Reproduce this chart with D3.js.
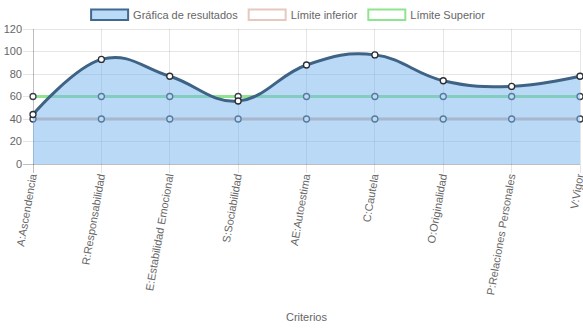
<!DOCTYPE html>
<html>
<head>
<meta charset="utf-8">
<script src="https://cdn.jsdelivr.net/npm/d3@7"></script>
<style>
  html, body { margin: 0; padding: 0; background: #fff; }
  svg { display: block; }
  text { font-family: "Liberation Sans", Arial, Helvetica, sans-serif; fill: #666; }
</style>
</head>
<body>
<svg id="chart" width="583" height="328"></svg>
<script>
const categories = ["A:Ascendencia", "R:Responsabilidad", "E:Estabilidad Emocional", "S:Sociabilidad",
  "AE:Autoestima", "C:Cautela", "O:Originalidad", "P:Relaciones Personales", "V:Vigor"];
const resultados = [44, 93, 78, 56, 88, 97, 74, 69, 78];
const limiteInferior = [40, 40, 40, 40, 40, 40, 40, 40, 40];
const limiteSuperior = [60, 60, 60, 60, 60, 60, 60, 60, 60];
const yTicks = [0, 20, 40, 60, 80, 100, 120];
const legendLabels = ["Gráfica de resultados", "Límite inferior", "Límite Superior"];
const xTitle = "Criterios";

const W = 583, H = 328;
const pLeft = 33, pRight = 580, pTop = 29, pBottom = 164;
const svg = d3.select("#chart");

const x = d3.scalePoint().domain(categories).range([pLeft, pRight]);
const y = d3.scaleLinear().domain([0, 120]).range([pBottom, pTop]);

// gridlines
const grid = svg.append("g");
yTicks.forEach(t => {
  grid.append("line").attr("x1", pLeft - 10).attr("x2", pRight)
    .attr("y1", y(t)).attr("y2", y(t))
    .attr("stroke", t === 0 ? "rgba(0,0,0,0.25)" : "rgba(0,0,0,0.1)").attr("stroke-width", 1)
    .attr("shape-rendering", "crispEdges");
});
categories.forEach((c, i) => {
  grid.append("line").attr("x1", x(c)).attr("x2", x(c))
    .attr("y1", pTop).attr("y2", pBottom + 9)
    .attr("stroke", i === 0 ? "rgba(0,0,0,0.25)" : "rgba(0,0,0,0.1)").attr("stroke-width", 1)
    .attr("shape-rendering", "crispEdges");
});

// y tick labels
svg.append("g").selectAll("text").data(yTicks).join("text")
  .attr("x", 22).attr("y", d => y(d)).attr("dy", "0.35em")
  .attr("text-anchor", "end").attr("font-size", 11).text(d => d);

// x labels
svg.append("g").selectAll("text").data(categories).join("text")
  .attr("transform", d => `translate(${x(d)},174) rotate(-80)`)
  .attr("text-anchor", "end").attr("dy", "0.35em").attr("font-size", 11).text(d => d);

svg.append("text").attr("x", (pLeft + pRight) / 2).attr("y", 321)
  .attr("text-anchor", "middle").attr("font-size", 11).text(xTitle);

const straight = d3.line().x((d, i) => x(categories[i])).y(d => y(d));
const curved = d3.line().x((d, i) => x(categories[i])).y(d => y(d)).curve(d3.curveCardinal.tension(-0.2));
const area = d3.area().x((d, i) => x(categories[i])).y0(y(0)).y1(d => y(d)).curve(d3.curveCardinal.tension(-0.2));

function drawPoints(data, stroke) {
  svg.append("g").selectAll("circle").data(data).join("circle")
    .attr("cx", (d, i) => x(categories[i])).attr("cy", d => y(d)).attr("r", 3)
    .attr("fill", "#fff").attr("stroke", stroke).attr("stroke-width", 1.3);
}

// limit datasets (drawn beneath)
svg.append("path").datum(limiteSuperior).attr("d", straight)
  .attr("fill", "none").attr("stroke", "#90e490").attr("stroke-width", 3);
drawPoints(limiteSuperior, "#3a3f48");
svg.append("path").datum(limiteInferior).attr("d", straight)
  .attr("fill", "none").attr("stroke", "#dcb8ac").attr("stroke-width", 3);
drawPoints(limiteInferior, "#3a3f48");

// results
svg.append("path").datum(resultados).attr("d", area)
  .attr("fill", "rgba(115,180,240,0.5)");
svg.append("path").datum(resultados).attr("d", curved)
  .attr("fill", "none").attr("stroke", "#3e6385").attr("stroke-width", 3);
drawPoints(resultados, "#2a2f36");

// legend
const legendStyles = [
  { fill: "#b9dbf7", stroke: "#41688f" },
  { fill: "#fff", stroke: "#e6c8bf" },
  { fill: "#fff", stroke: "#90e490" }
];
const lg = svg.append("g");
const items = legendLabels.map((t, i) => {
  const g = lg.append("g");
  g.append("rect").attr("x", 1).attr("y", 9.5).attr("width", 37).attr("height", 10.5)
    .attr("fill", legendStyles[i].fill).attr("stroke", legendStyles[i].stroke).attr("stroke-width", 2);
  const tx = g.append("text").attr("x", 43).attr("y", 15).attr("dy", "0.35em")
    .attr("font-size", 11).text(t);
  return { g, w: 43 + tx.node().getComputedTextLength() + 10 };
});
const total = d3.sum(items, d => d.w);
let cx = (W - total) / 2 + 1;
items.forEach(it => { it.g.attr("transform", `translate(${cx},0)`); cx += it.w; });
</script>
</body>
</html>
